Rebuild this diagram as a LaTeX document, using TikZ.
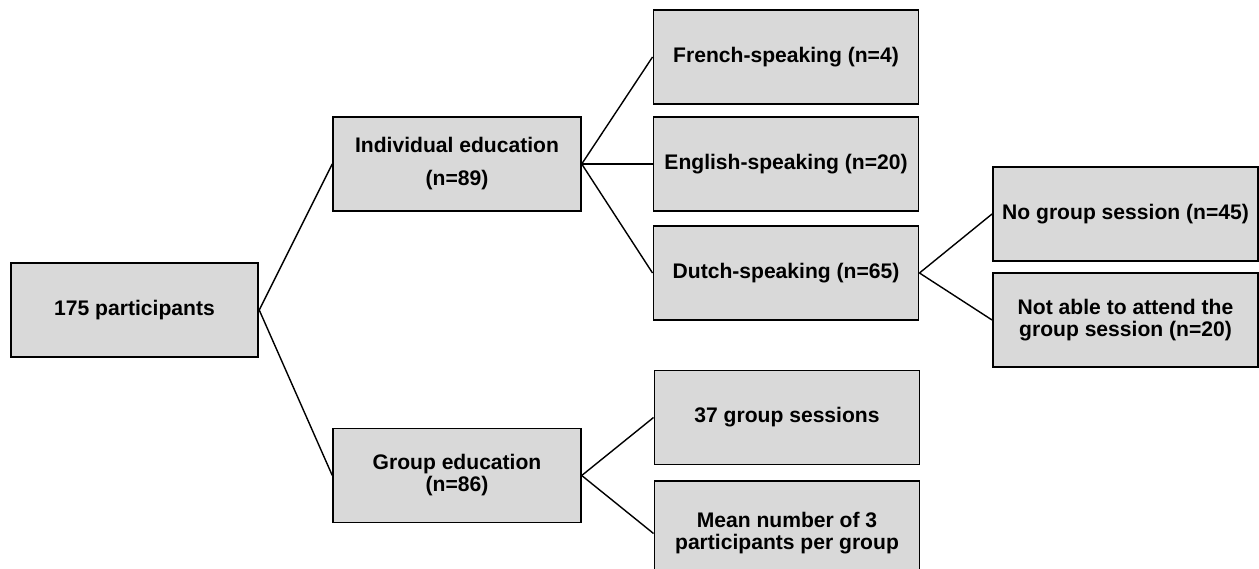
\documentclass[tikz,border=0pt]{standalone}
\usepackage{fontspec}
\setmainfont{Liberation Sans}
\usepackage{xcolor}
\usepackage{tikz}
\usetikzlibrary{positioning}
\definecolor{boxgray}{RGB}{217,217,217}
\tikzstyle{stage} = [rectangle, minimum width=4.95cm, minimum height=1.88cm, text centered, align=center, draw=black, fill=boxgray, line width=1.1pt, font=\bfseries\fontsize{12}{12.5}\selectfont]
\tikzstyle{branch} = [stage, minimum width=5.3cm]
\tikzstyle{link} = [line width=0.8pt]

\begin{document}
\begin{tikzpicture}[node distance=6.45cm]
    \useasboundingbox (-2.69,6.20) rectangle (22.49,-5.18);

    % Start
    \node (start) [stage] {175 participants};

    % Education type
    \node (indiv) [stage, right of=start, yshift=2.92cm] {Individual education\\[6.3pt](n=89)};
    \node (group) [stage, right of=start, yshift=-3.31cm] {Group education\\(n=86)};

    % Language
    \node (french) [branch, right of=indiv, xshift=0.13cm, yshift=2.14cm] {French-speaking (n=4)};
    \node (english) [branch, right of=indiv, xshift=0.13cm] {English-speaking (n=20)};
    \node (dutch) [branch, right of=indiv, xshift=0.13cm, yshift=-2.18cm] {Dutch-speaking (n=65)};

    % Dutch follow-up
    \node (nogroup) [branch, right of=dutch, xshift=0.34cm, yshift=1.18cm] {No group session (n=45)};
    \node (notable) [branch, right of=dutch, xshift=0.34cm, yshift=-0.94cm] {Not able to attend the\\group session (n=20)};

    % Group sessions
    \node (sessions) [branch, right of=group, xshift=0.15cm, yshift=1.16cm] {37 group sessions};
    \node (mean) [branch, minimum height=2.1cm, right of=group, xshift=0.15cm, yshift=-1.16cm] {Mean number of 3\\participants per group};

    % Lines
    \draw [link] (start.east) -- (indiv.west);
    \draw [link] (start.east) -- (group.west);
    \draw [link] (indiv.east) -- (french.west);
    \draw [link] (indiv.east) -- (english.west);
    \draw [link] (indiv.east) -- (dutch.west);
    \draw [link] (dutch.east) -- (nogroup.west);
    \draw [link] (dutch.east) -- (notable.west);
    \draw [link] (group.east) -- (sessions.west);
    \draw [link] (group.east) -- (mean.west);
\end{tikzpicture}
\end{document}
